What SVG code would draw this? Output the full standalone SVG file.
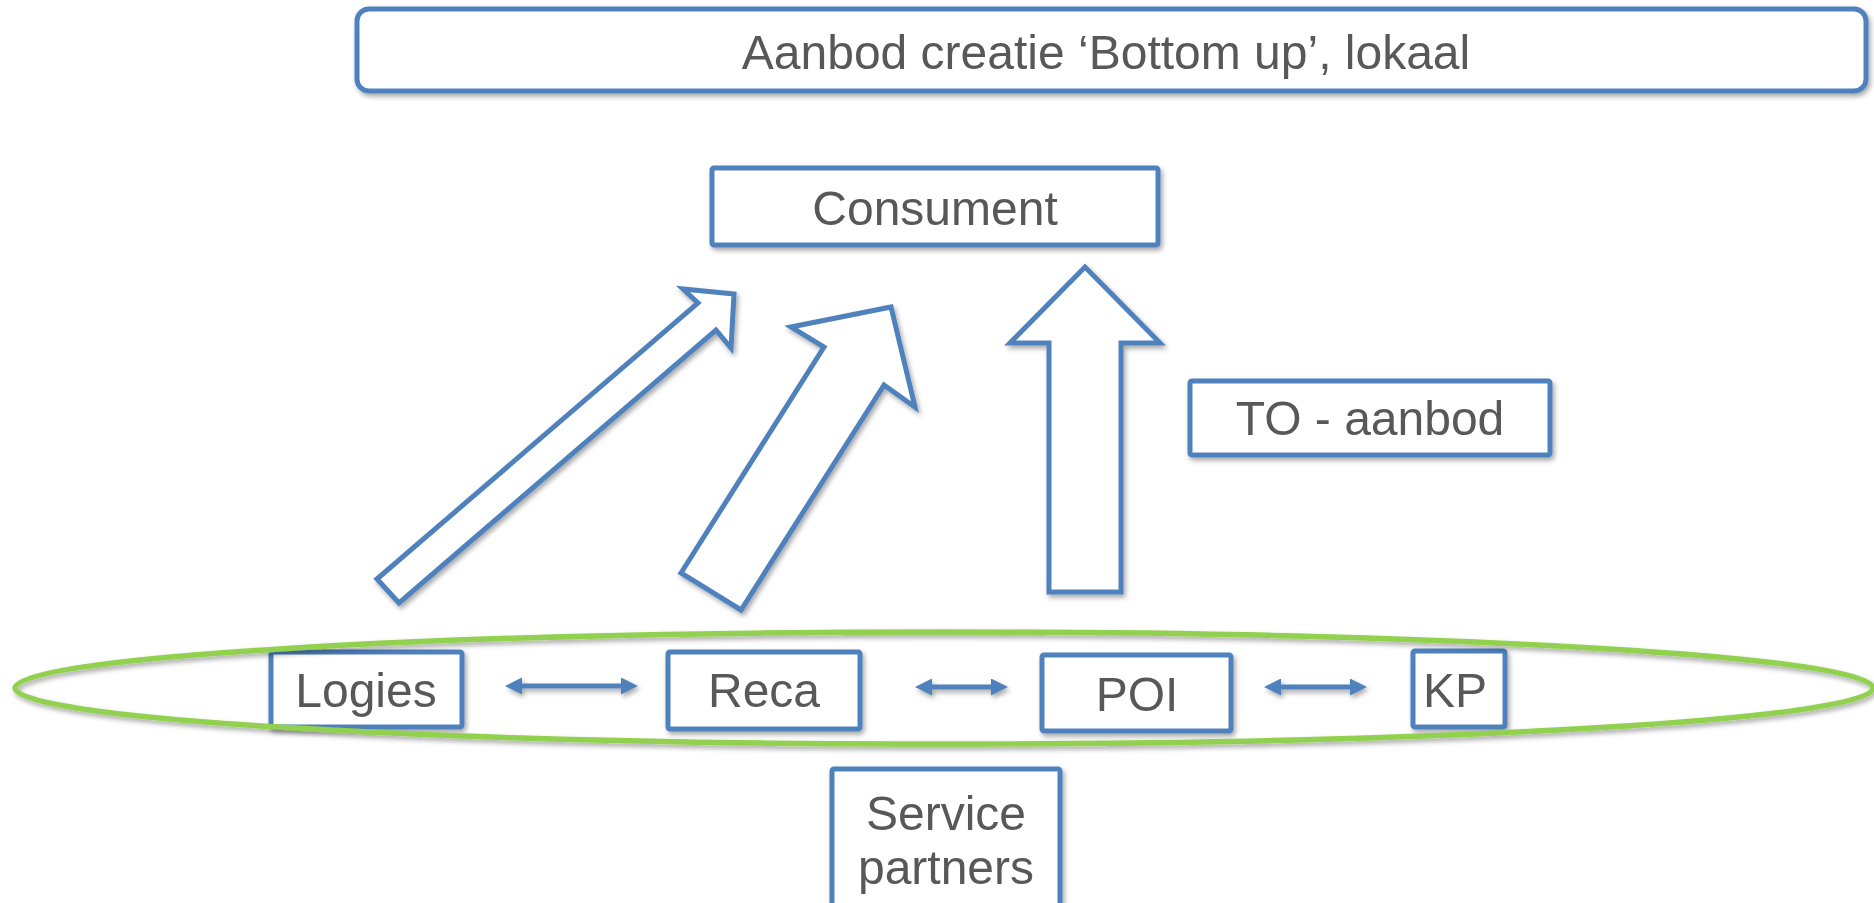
<svg xmlns="http://www.w3.org/2000/svg" width="1874" height="903" viewBox="0 0 1874 903">
<style>
.box{fill:#ffffff;stroke:#4F81BD;stroke-width:5}
.blk{fill:#ffffff;stroke:#4F81BD;stroke-width:5;stroke-linejoin:miter}
.lbl{font-family:"Liberation Sans",Arial,sans-serif;font-size:48px;fill:#595959;text-anchor:middle}
.dbl{stroke:#4F81BD;stroke-width:5;fill:none}
.grp{fill:none;stroke:#92D050;stroke-width:5.5}
</style>
<defs>
<filter id="sh" x="-10%" y="-10%" width="120%" height="130%">
<feDropShadow dx="2" dy="3" stdDeviation="2.5" flood-color="#000000" flood-opacity="0.35"/>
</filter>
<marker id="ah" viewBox="0 0 17 17" refX="9" refY="8.5" markerWidth="17" markerHeight="17" markerUnits="userSpaceOnUse" orient="auto-start-reverse">
<path d="M0,0 L17,8.5 L0,17 Z" fill="#4F81BD"/>
</marker>
</defs>

<g id="title" filter="url(#sh)">
<rect class="box" x="357" y="9" width="1509" height="82" rx="12"/>
<text class="lbl" x="1106" y="69">Aanbod creatie ‘Bottom up’, lokaal</text>
</g>

<g id="consument" filter="url(#sh)">
<rect class="box" x="712" y="168" width="446" height="77" rx="2"/>
<text class="lbl" x="935" y="225">Consument</text>
</g>

<g id="to-aanbod" filter="url(#sh)">
<rect class="box" x="1190" y="381" width="360" height="74" rx="2"/>
<text class="lbl" x="1370" y="435">TO - aanbod</text>
</g>

<g id="logies" filter="url(#sh)">
<rect class="box" x="271" y="652" width="191" height="75" rx="2"/>
<text class="lbl" x="366" y="707">Logies</text>
</g>

<g id="reca" filter="url(#sh)">
<rect class="box" x="668" y="652" width="192" height="77" rx="2"/>
<text class="lbl" x="764" y="707">Reca</text>
</g>

<g id="poi" filter="url(#sh)">
<rect class="box" x="1042" y="655" width="189" height="76" rx="2"/>
<text class="lbl" x="1137" y="711">POI</text>
</g>

<g id="kp" filter="url(#sh)">
<rect class="box" x="1413" y="651" width="92" height="76" rx="2"/>
<text class="lbl" x="1455" y="707">KP</text>
</g>

<g id="service-partners" filter="url(#sh)">
<rect class="box" x="832" y="769" width="228" height="150" rx="2"/>
<text class="lbl" x="946" y="830">Service</text>
<text class="lbl" x="946" y="884">partners</text>
</g>

<g id="partner-group" filter="url(#sh)">
<ellipse class="grp" cx="944" cy="688" rx="929" ry="56"/>
</g>

<g id="connectors" filter="url(#sh)">
<polygon class="blk" points="377,579 698,303 683,289 734,294 731,348 716,330 399,603"/>
<polygon class="blk" points="681,573 824,347 791,327 891,307 915,407 884,385 741,610"/>
<polygon class="blk" points="1049,592 1049,343 1010,343 1085,267 1160,343 1121,343 1121,592"/>
<line class="dbl" x1="513" y1="686" x2="630" y2="686" marker-start="url(#ah)" marker-end="url(#ah)"/>
<line class="dbl" x1="923" y1="687" x2="1000" y2="687" marker-start="url(#ah)" marker-end="url(#ah)"/>
<line class="dbl" x1="1272" y1="687" x2="1359" y2="687" marker-start="url(#ah)" marker-end="url(#ah)"/>
</g>
</svg>
